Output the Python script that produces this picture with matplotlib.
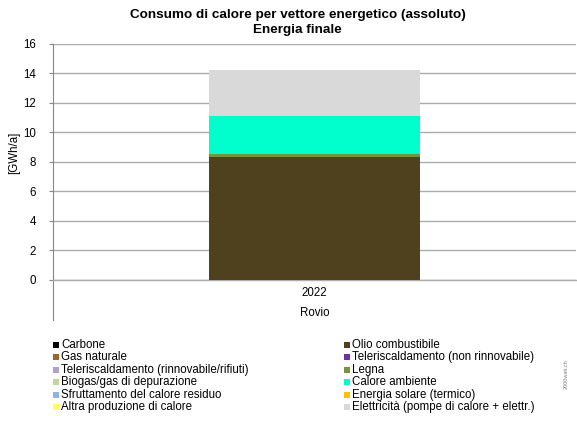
import matplotlib
matplotlib.use("Agg")
import matplotlib.pyplot as plt
from matplotlib.patches import Rectangle
from matplotlib.lines import Line2D

plt.rcParams['font.family'] = ['Liberation Sans', 'DejaVu Sans']

categories = ["2022"]
group_label = "Rovio"
series_names = [
    "Carbone", "Olio combustibile",
    "Gas naturale", "Teleriscaldamento (non rinnovabile)",
    "Teleriscaldamento (rinnovabile/rifiuti)", "Legna",
    "Biogas/gas di depurazione", "Calore ambiente",
    "Sfruttamento del calore residuo", "Energia solare (termico)",
    "Altra produzione di calore", "Elettricità (pompe di calore + elettr.)",
]
series_values = [
    [0.0], [8.32],
    [0.0], [0.0],
    [0.0], [0.20],
    [0.0], [2.58],
    [0.0], [0.0],
    [0.0], [3.12],
]
series_colors = [
    "#000000", "#4F401E",
    "#A0632F", "#7030A0",
    "#B3A2C7", "#77933C",
    "#C3D69B", "#00FFCC",
    "#8EB4E3", "#FFC000",
    "#FFFF66", "#D9D9D9",
]
yticks = [0, 2, 4, 6, 8, 10, 12, 14, 16]

FS = 8.3
W, H = 577, 425
fig = plt.figure(figsize=(W / 100, H / 100), dpi=100)
ax = fig.add_axes([53 / W, 1 - 279.7 / H, (576 - 53) / W, (279.7 - 43.7) / H])

x = list(range(len(categories)))
bottom = [0.0] * len(categories)
for name, vals, col in zip(series_names, series_values, series_colors):
    ax.bar(x, vals, bottom=bottom, width=0.403, color=col, linewidth=0, zorder=3)
    bottom = [b + v for b, v in zip(bottom, vals)]

ax.set_xlim(-0.5, 0.5)
ax.set_ylim(0, 16)
ax.set_yticks(yticks)
ax.set_yticklabels([str(t) for t in yticks], fontsize=FS, color="#000000")
ax.yaxis.grid(True, color="#ABABAB", linewidth=1.0, zorder=0)
ax.set_axisbelow(True)
for s in ["top", "right"]:
    ax.spines[s].set_visible(False)
ax.spines["left"].set_color("#868686")
ax.spines["left"].set_linewidth(0.8)
ax.spines["bottom"].set_color("#ABABAB")
ax.spines["bottom"].set_linewidth(1.0)
ax.tick_params(axis="y", length=3, width=0.8, color="#868686", pad=9.2)
ax.set_xticks(x)
ax.set_xticklabels(categories, fontsize=FS)
ax.tick_params(axis="x", length=0, pad=5)

# category group axis extension
ax.add_line(Line2D([0, 0], [0, -40.3 / 236.0], transform=ax.transAxes,
                   color="#868686", linewidth=0.8, clip_on=False))
ax.text(0.5, -33.5 / 236.0, group_label, transform=ax.transAxes,
        ha="center", va="center", fontsize=FS)

fig.text(14 / W, 1 - 153 / H, "[GWh/a]", rotation=90, ha="center", va="center", fontsize=FS)

tx = 0.5 * (129 + 466) / W
fig.text(tx, 1 - 15 / H, "Consumo di calore per vettore energetico (assoluto)",
         ha="center", va="center", fontsize=9.7, fontweight="bold")
fig.text(tx, 1 - 30 / H, "Energia finale",
         ha="center", va="center", fontsize=9.7, fontweight="bold")

# legend (two columns, row-wise order)
col_x = [53, 344]
row_y0 = 345
row_dy = 12.4
for i, (name, col) in enumerate(zip(series_names, series_colors)):
    cx = col_x[i % 2]
    cy = row_y0 + (i // 2) * row_dy
    fig.patches.append(Rectangle((cx / W, 1 - (cy + 3) / H), 6 / W, 6 / H,
                                 transform=fig.transFigure, facecolor=col,
                                 edgecolor="none"))
    fig.text((cx + 8) / W, 1 - cy / H, name, ha="left", va="center", fontsize=FS)

fig.text(566 / W, 1 - 374 / H, "2000watt.ch", rotation=90, ha="center", va="center",
         fontsize=4.0, color="#808080")

fig.savefig("out.png", dpi=100)
